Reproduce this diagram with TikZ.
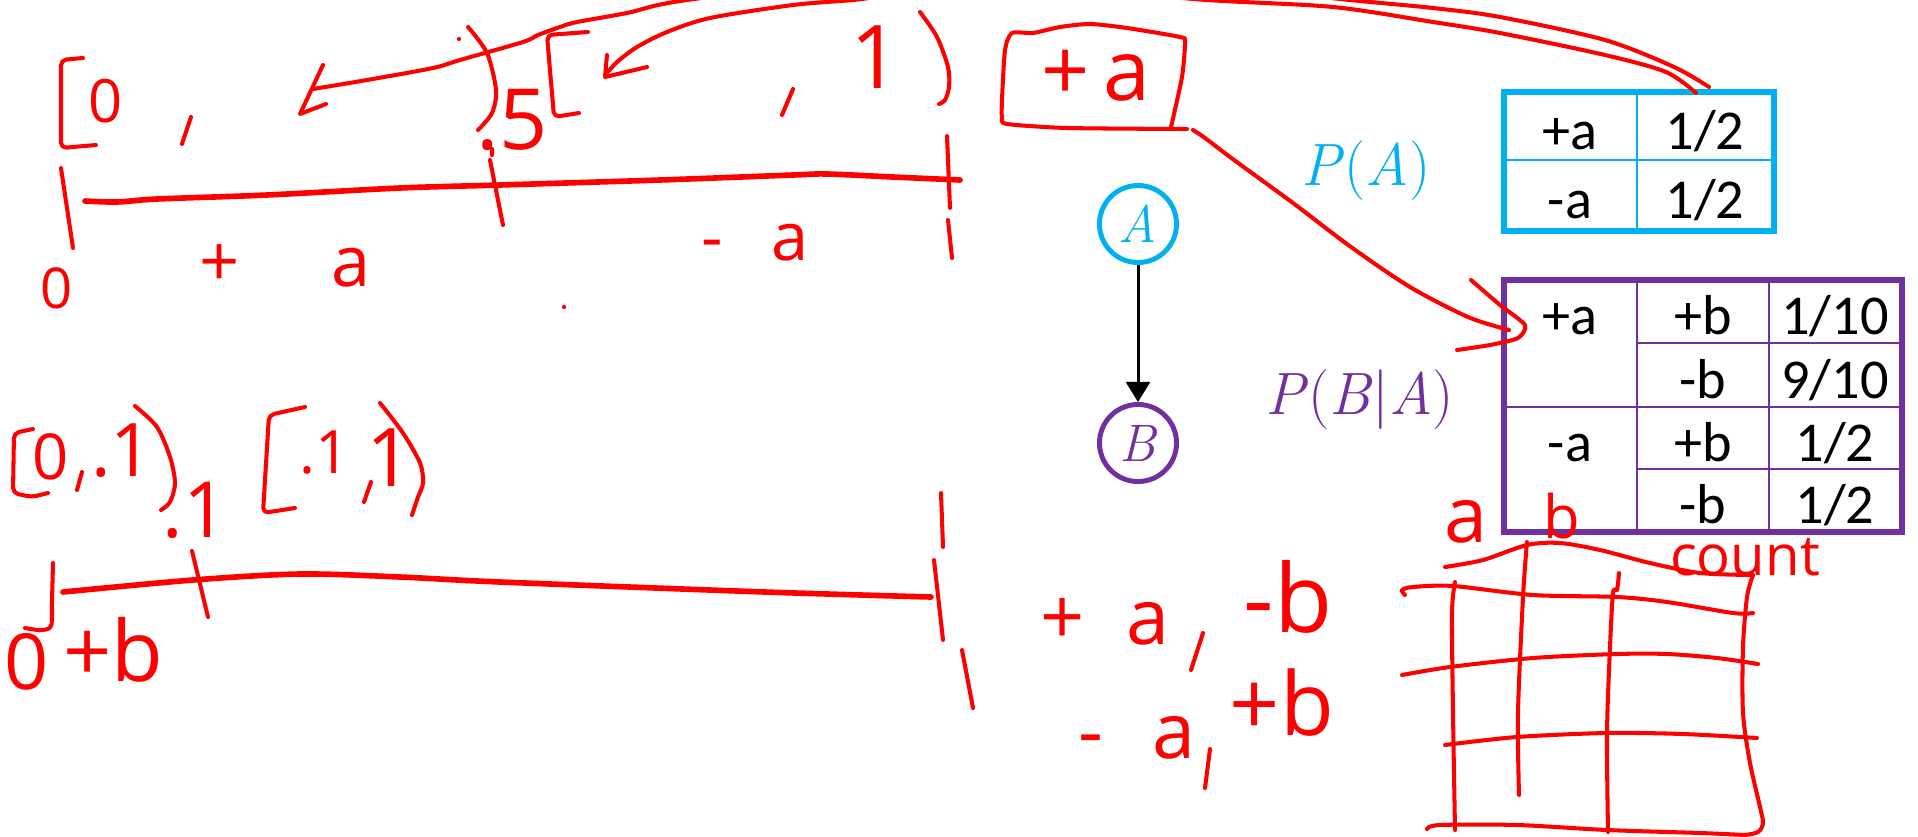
\documentclass[tikz,border=0pt]{standalone}
\usepackage{fontspec}
\newfontfamily\tabfont{Carlito}
\newfontfamily\handfont{Open Sans}
\usetikzlibrary{arrows.meta}
\definecolor{pacyan}{RGB}{0,176,240}
\definecolor{pbpurple}{RGB}{112,48,160}
\definecolor{inkred}{RGB}{255,0,0}

\begin{document}
\begin{tikzpicture}[x=0.01cm, y=-0.01cm, >={Triangle[length=5.7pt,width=6.8pt]},
  hand/.style={inkred, line width=1.15pt, line cap=round, line join=round},
  inkaxis/.style={hand, line width=1.6pt},
  handtext/.style={text=inkred, inner sep=0pt, font=\handfont\fontsize{#1}{#1}\selectfont},
  cell/.style={inner sep=0pt, text height=10pt, text depth=0pt, font=\tabfont\fontsize{16}{19}\selectfont},
  varnode/.style={circle, line width=1.4pt, minimum size=7.7mm, inner sep=0pt, font=\itshape\fontsize{15}{17}\selectfont}]
  \useasboundingbox (0,0) rectangle (1918,836);
  \clip (0,0) rectangle (1918,836);

  % Bayes net A -> B
  \node[varnode, draw=pacyan, text=pacyan] (A) at (1138,224) {A};
  \node[varnode, draw=pbpurple, text=pbpurple] (B) at (1138,443) {B};
  \draw[->, line width=0.85pt] (A) -- (B);
  \node[text=pacyan, inner sep=0pt, font=\fontsize{17}{20}\selectfont] (PA) at (1366,171) {\textit{P}(\textit{A})};
  \node[text=pbpurple, inner sep=0pt, font=\fontsize{17}{20}\selectfont] (PBA) at (1360,400) {\textit{P}(\textit{B}|\textit{A})};

  % table P(A)
  \draw[pacyan, line width=0.7pt] (1637,92) -- (1637,231) (1504,160) -- (1774,160);
  \draw[pacyan, line width=1.7pt] (1504,92) rectangle (1774,231);
  \node[cell] (paPlus) at (1570,132) {+a};
  \node[cell] (paPlusP) at (1705,132) {1/2};
  \node[cell] (paMinus) at (1570,201) {-a};
  \node[cell] (paMinusP) at (1705,201) {1/2};

  % table P(B|A)
  \draw[pbpurple, line width=0.6pt] (1637,280) -- (1637,532) (1769,280) -- (1769,532)
    (1504,407) -- (1902,407) (1637,343) -- (1902,343) (1637,469) -- (1902,469);
  \draw[pbpurple, line width=1.7pt] (1504,280) rectangle (1902,532);
  \node[cell] (pbA1) at (1570,317) {+a};
  \node[cell] (pbA2) at (1570,444) {-a};
  \node[cell] (pbB1) at (1703,317) {+b};
  \node[cell] (pbB2) at (1703,381) {-b};
  \node[cell] (pbB3) at (1703,444) {+b};
  \node[cell] (pbB4) at (1703,506) {-b};
  \node[cell] (pbP1) at (1835,317) {1/10};
  \node[cell] (pbP2) at (1835,381) {9/10};
  \node[cell] (pbP3) at (1835,444) {1/2};
  \node[cell] (pbP4) at (1835,506) {1/2};

  % ink: splitting [0,1) for a
  \draw[hand, rounded corners=1.5pt] (83,58) -- (61,60) -- (61,148) -- (96,145);
  \node[handtext=17] (zeroA) at (106,101) {0};
  \draw[hand] (191,117) -- (182,144);
  \draw[hand] plot[smooth] coordinates {(468,27) (487,53) (496,90) (492,113) (478,130)};
  \fill[inkred] (459,39) circle (0.6pt);
  \node[handtext=24] (halfA) at (512,120) {.5};
  \draw[hand, rounded corners=1.5pt] (588,32) -- (547,35) -- (554,117) -- (579,113);
  \draw[hand] (793,89) -- (782,115);
  \node[handtext=25] (oneA) at (876,57) {1};
  \draw[hand] plot[smooth] coordinates {(920,12) (937,37) (948,67) (949,87) (945,100) (939,104)};

  \draw[inkaxis] plot[smooth] coordinates {(85,201) (117,202) (157,199) (267,195) (400,188)
    (500,185) (660,180) (793,175) (827,174) (893,177) (960,180)};
  \draw[hand] (61,168) -- (73,248);
  \draw[hand] (492,149) -- (492,155) (490,160) -- (503,225);
  \draw[hand] (947,136) -- (950,208) (948,220) -- (952,258);
  \node[handtext=16] (zeroAx) at (57,288) {0};
  \node[handtext=20] (plusA) at (285,266) {+\hspace{26pt}a};
  \node[handtext=19] (minusA) at (755,243) {-\hspace{14pt}a};
  \fill[inkred] (564,307) circle (0.6pt);

  % ink: arrows from P(A) into the intervals
  \coordinate (paOuter) at (1709,87);
  \coordinate (paInner) at (1696,93);
  \draw[hand] plot[smooth] coordinates {(paOuter) (1674,67) (1605,40) (1500,17) (1433,8) (1350,0)
    (1100,-25) (900,-25) (687,0) (627,13) (577,22) (560,27) (538,35) (523,42) (460,60) (433,68)
    (367,80) (313,89)};
  \draw[hand] (323,65) -- (300,114) -- (326,104);
  \draw[hand] plot[smooth] coordinates {(paInner) (1666,72) (1605,55) (1500,33) (1433,22) (1333,7)
    (1207,0) (1050,-12) (900,-5) (853,0) (793,5) (710,18) (667,32) (637,47) (617,62) (608,72)};
  \draw[hand] (607,55) -- (605,77) -- (647,67);

  % ink: boxed +a pointing at its rows
  \draw[hand] plot[smooth, tension=0.4] coordinates {(1187,129) (1067,128) (1007,124) (1002,118)
    (1002,100) (1005,50) (1012,33) (1033,33) (1060,27) (1090,24) (1127,28) (1180,37) (1185,42)
    (1182,77) (1171,127)};
  \node[handtext=24] (plusBox) at (1096,76) {+\hspace{4pt}a};
  \coordinate (boxTip) at (1193,130);
  \coordinate (cptIn) at (1509,330);
  \draw[hand] plot[smooth] coordinates {(boxTip) (1205,138) (1234,160) (1293,203) (1351,247)
    (1410,287) (1468,317) (cptIn)};
  \draw[hand] plot[smooth, tension=0.4] coordinates {(1471,280) (1500,305) (1525,325) (1518,338)
    (1490,345) (1457,350)};

  % ink: splitting [0,1) for b
  \draw[hand, rounded corners=1.5pt] (33,429) -- (14,433) -- (13,493) -- (32,497) -- (48,493);
  \node[handtext=18] (zeroB) at (51,457) {0};
  \draw[hand] (82,472) -- (77,490);
  \node[handtext=21] (tenthB) at (122,451) {.1};
  \draw[hand] plot[smooth] coordinates {(135,406) (157,427) (170,457) (175,483) (170,502) (161,510)};
  \node[handtext=22] (tenthTick) at (195,510) {.1};
  \draw[hand, rounded corners=1.5pt] (305,407) -- (269,415) -- (263,513) -- (295,508);
  \node[handtext=17] (tenthC) at (325,453) {.1};
  \draw[hand] (371,482) -- (364,502);
  \node[handtext=23] (oneB) at (390,458) {1};
  \draw[hand] plot[smooth] coordinates {(380,403) (403,433) (420,463) (423,483) (418,497) (412,515)};

  \draw[inkaxis] plot[smooth] coordinates {(63,592) (193,580) (300,574) (400,577) (500,582)
    (765,592) (931,597)};
  \draw[hand] plot[smooth] coordinates {(53,563) (52,600) (51,626) (40,630) (25,628)};
  \draw[hand] (192,551) -- (208,617);
  \draw[hand] (941,493) -- (943,547) (934,560) -- (943,640) (962,650) -- (973,708);
  \node[handtext=22] (zeroBx) at (27,662) {0};
  \node[handtext=24] (plusB) at (113,650) {+b};

  % ink: joint outcomes
  \node[handtext=22] (jointPM) at (1105,622) {+\hspace{12pt}a};
  \draw[hand] (1203,633) -- (1191,670);
  \node[handtext=27] (jointPMb) at (1288,597) {-b};
  \node[handtext=22] (jointMP) at (1137,738) {-\hspace{14pt}a};
  \draw[hand] (1210,749) -- (1205,788);
  \node[handtext=25] (jointMPb) at (1282,703) {+b};

  % ink: count table
  \node[handtext=22] (colA) at (1466,522) {a};
  \node[handtext=17] (colB) at (1562,516) {b};
  \node[handtext=16] (colCount) at (1745,557) {count};
  \draw[hand] plot[smooth] coordinates {(1445,567) (1483,560) (1527,545) (1560,543) (1600,550)
    (1650,563) (1700,573) (1753,575)};
  \draw[hand] plot[smooth] coordinates {(1753,575) (1747,597) (1743,647) (1743,713) (1750,763)
    (1760,807) (1763,823) (1758,832) (1745,835)};
  \draw[hand] plot[smooth] coordinates {(1427,829) (1440,825) (1517,825) (1607,830) (1700,833) (1745,835)};
  \draw[hand] plot[smooth] coordinates {(1405,595) (1402,590) (1413,587) (1453,586) (1533,595)
    (1617,597) (1667,602) (1733,613) (1753,613)};
  \draw[hand] plot[smooth] coordinates {(1402,675) (1450,667) (1533,658) (1617,654) (1667,654)
    (1717,658) (1758,664)};
  \draw[hand] plot[smooth] coordinates {(1445,745) (1517,737) (1607,733) (1683,734) (1757,738)};
  \draw[hand] plot[smooth] coordinates {(1455,582) (1452,613) (1453,713) (1455,830)};
  \draw[hand] plot[smooth] coordinates {(1527,542) (1523,597) (1518,713) (1519,795)};
  \draw[hand] plot[smooth] coordinates {(1619,573) (1617,590) (1613,593) (1610,647) (1607,733) (1608,832)};
\end{tikzpicture}
\end{document}
